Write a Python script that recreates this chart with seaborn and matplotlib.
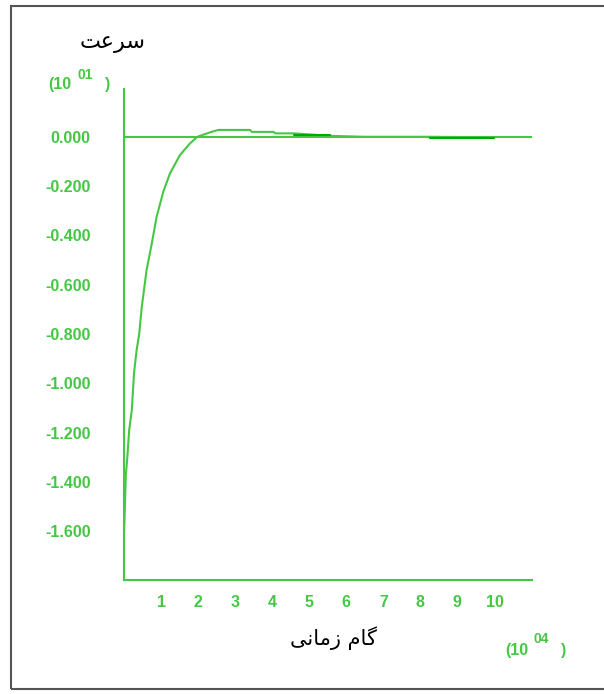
import matplotlib
matplotlib.use("Agg")
import matplotlib.pyplot as plt
from matplotlib.patches import Rectangle
import pandas as pd
import seaborn as sns

# time step (x 10^4) and velocity (x 10^1)
step_main = [0.0, 0.01, 0.03, 0.05, 0.09, 0.14, 0.21, 0.27, 0.34, 0.41, 0.48,
             0.61, 0.75, 0.88, 1.06, 1.24, 1.51, 1.78, 1.98, 2.32, 2.55, 3.4,
             3.45, 4.04, 4.08, 4.58, 5.56, 6.5, 8.27, 10.0]
vel_main = [-1.60, -1.57, -1.47, -1.37, -1.30, -1.19, -1.11, -0.96, -0.866,
            -0.80, -0.69, -0.54, -0.433, -0.325, -0.223, -0.149, -0.074,
            -0.027, 0.0, 0.018, 0.028, 0.028, 0.02, 0.02, 0.014, 0.014, 0.004,
            0.0, 0.0, -0.002]

# darker pieces of the trace near the axis
step_dark1 = [4.58, 5.56]
vel_dark1 = [0.007, 0.007]
step_dark2 = [8.27, 10.0]
vel_dark2 = [-0.005, -0.005]

yticks = [0.0, -0.2, -0.4, -0.6, -0.8, -1.0, -1.2, -1.4, -1.6]
ytick_labels = ["0.000", "-0.200", "-0.400", "-0.600", "-0.800",
                "-1.000", "-1.200", "-1.400", "-1.600"]
xticks = [1, 2, 3, 4, 5, 6, 7, 8, 9, 10]

# persian labels, written in presentation forms (visual order) since
# matplotlib does no arabic shaping: "سرعت" and "گام زمانی"
ylabel_fa = "\uFE96\uFECB\uFEAE\uFEB3"
xlabel_fa = "\uFBFD\uFEE7\uFE8E\uFEE3\uFEAF \uFEE1\uFE8E\uFB94"

GREEN = "#44c844"
DARK = "#00a800"

sns.set_style("white")
plt.rcParams["font.family"] = ["Liberation Sans", "DejaVu Sans"]

df = pd.concat([
    pd.DataFrame({"step": step_main, "vel": vel_main, "seg": 0, "shade": "main"}),
    pd.DataFrame({"step": step_dark1, "vel": vel_dark1, "seg": 1, "shade": "dark"}),
    pd.DataFrame({"step": step_dark2, "vel": vel_dark2, "seg": 2, "shade": "dark"}),
])

W, H = 604, 694
fig = plt.figure(figsize=(W / 100, H / 100), dpi=100)
ax = fig.add_axes([124 / W, 1 - 579.5 / H, (531.5 - 124) / W, (579.5 - 89) / H])

ax.axhline(0, color=GREEN, lw=1.5, zorder=1)
sns.lineplot(data=df, x="step", y="vel", hue="shade", units="seg", estimator=None,
             palette={"main": GREEN, "dark": DARK}, linewidth=1.5, legend=False,
             sort=False, ax=ax, zorder=2)

ax.set_xlim(0, 11)
ax.set_ylim(-1.796, 0.194)
ax.set_xticks(xticks)
ax.set_xticklabels([str(t) for t in xticks])
ax.set_yticks(yticks)
ax.set_yticklabels(ytick_labels)
ax.set_xlabel("")
ax.set_ylabel("")

for s in ["top", "right"]:
    ax.spines[s].set_visible(False)
for s in ["left", "bottom"]:
    ax.spines[s].set_color(GREEN)
    ax.spines[s].set_linewidth(1.5)

ax.tick_params(axis="y", direction="out", length=5, width=1.5, color=GREEN,
               labelcolor=GREEN, labelsize=11.5, pad=19)
ax.tick_params(axis="x", direction="out", length=5, width=1.5, color=GREEN,
               labelcolor=GREEN, labelsize=11.5, pad=6)
for lab in ax.get_xticklabels() + ax.get_yticklabels():
    lab.set_fontweight("bold")

def px(x, y):
    return x / W, 1 - y / H

# scale notes
fig.text(*px(48, 85), "(10", color=GREEN, fontsize=11.5, fontweight="bold", va="center")
fig.text(*px(77, 75), "01", color=GREEN, fontsize=10, fontweight="bold", va="center")
fig.text(*px(105, 85), ")", color=GREEN, fontsize=11.5, fontweight="bold", va="center")
fig.text(*px(505, 650), "(10", color=GREEN, fontsize=11.5, fontweight="bold", va="center")
fig.text(*px(533, 639), "04", color=GREEN, fontsize=10, fontweight="bold", va="center")
fig.text(*px(561, 650), ")", color=GREEN, fontsize=11.5, fontweight="bold", va="center")

# axis titles
fig.text(*px(113, 43), ylabel_fa, family=["DejaVu Sans"], fontsize=16,
         ha="center", va="center", color="black")
fig.text(*px(333, 638), xlabel_fa, family=["DejaVu Sans"], fontsize=15,
         ha="center", va="center", color="black")

# frame around the figure
fig.add_artist(Rectangle(px(11, 689), 700 / W, (689 - 6) / H, transform=fig.transFigure,
                         fill=False, edgecolor="#555555", linewidth=1.5))

fig.savefig("out.png", dpi=100)
